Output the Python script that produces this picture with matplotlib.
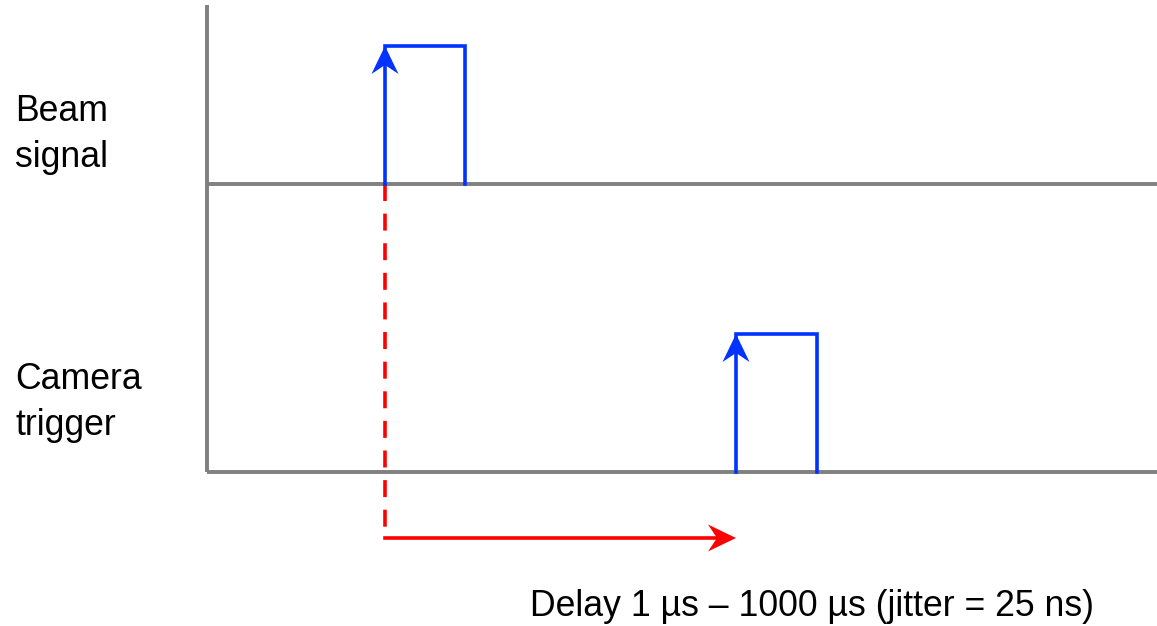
import numpy as np
import matplotlib.pyplot as plt
from matplotlib.patches import Polygon

plt.rcParams['font.family'] = ['Liberation Sans', 'DejaVu Sans']

# timing diagram data (time in arbitrary units, level in arbitrary units)
channels = ["Beam\nsignal", "Camera\ntrigger"]
baselines = [288, 0]          # baseline level of each channel
pulse_start = [178, 529]      # rising edge of each pulse
pulse_end = [258, 610]        # falling edge of each pulse
pulse_height = 138
t_end = 950
axis_top = 467
delay_level = -66
label = "Delay 1 µs – 1000 µs (jitter = 25 ns)"

# layout: baseline of the last line of each channel label
label_y = [305, 37]

gray = "#808080"
blue = "#0033FF"
red = "#FF0000"
lw = 2.6
fs = 25.7


def arrow_head(ax, tip, direction, color, length=28, width=27, notch=9):
    """Notched arrow head drawn as a polygon."""
    d = np.array(direction, dtype=float)
    n = np.array([-d[1], d[0]])
    tip = np.array(tip, dtype=float)
    back = tip - d * length
    pts = [tip, back + n * width / 2, tip - d * (length - notch), back - n * width / 2]
    ax.add_patch(Polygon(pts, closed=True, color=color, lw=0, zorder=5))


fig = plt.figure(figsize=(11.57, 6.26), dpi=100)
ax = fig.add_axes([0, 0, 1, 1])
ax.set_xlim(-207, 950)
ax.set_ylim(-154, 472)
ax.axis("off")

# time axes
ax.plot([0, 0], [0, axis_top], color=gray, lw=2.8, solid_capstyle="butt")
for b in baselines:
    ax.plot([0, t_end], [b, b], color=gray, lw=2.8, solid_capstyle="butt")

# pulses
for b, t0, t1 in zip(baselines, pulse_start, pulse_end):
    ax.plot([t0, t0, t1, t1], [b, b + pulse_height, b + pulse_height, b],
            color=blue, lw=lw, solid_joinstyle="miter", zorder=4)
    arrow_head(ax, (t0, b + pulse_height), (0, 1), blue)

# delay arrow
ax.plot([pulse_start[0], pulse_start[0]], [baselines[0], delay_level],
        color=red, lw=lw, dashes=(4.7, 3.5), zorder=3)
ax.plot([pulse_start[0], pulse_start[1] - 15], [delay_level, delay_level],
        color=red, lw=lw, zorder=3)
arrow_head(ax, (pulse_start[1], delay_level), (1, 0), red)

# labels
for name, y in zip(channels, label_y):
    ax.text(-192, y, name, fontsize=fs, ha="left", va="baseline",
            linespacing=1.4)
ax.text(605, -144, label, fontsize=fs, ha="center", va="baseline")

fig.savefig("out.png", dpi=100)
